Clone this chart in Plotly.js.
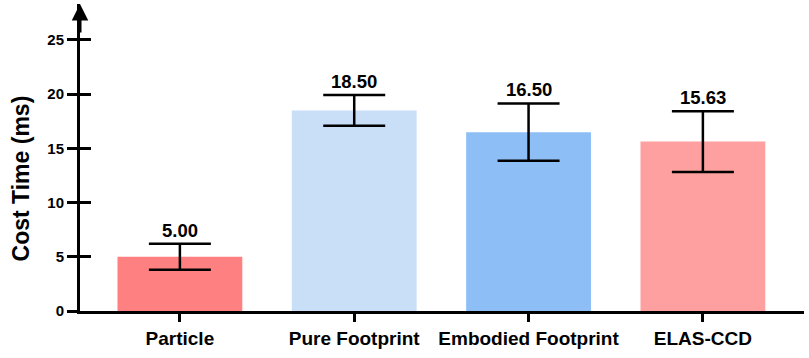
<!DOCTYPE html>
<html>
<head>
<meta charset="utf-8">
<script src="https://cdn.plot.ly/plotly-3.0.1.min.js"></script>
<style>html,body{margin:0;padding:0;background:#fff;}#chart{width:809px;height:358px;}</style>
</head>
<body>
<div id="chart"></div>
<script>
const categories = ["Particle", "Pure Footprint", "Embodied Footprint", "ELAS-CCD"];
const meanValues = [5.00, 18.50, 16.50, 15.63];
const errorValues = [1.2, 1.42, 2.65, 2.8];
const barColors = ["#FF8080", "#C9DEF7", "#8EBEF6", "#FFA0A0"];
const yTickValues = [0, 5, 10, 15, 20, 25];

const FONT = "Liberation Sans, Arial, Helvetica, sans-serif";

const bar = {
  type: "bar",
  x: categories,
  y: meanValues,
  marker: {color: barColors, line: {width: 0}},
  error_y: {type: "data", array: errorValues, visible: true, color: "#000", thickness: 2.5, width: 31},
  hoverinfo: "none",
  showlegend: false
};

const annotations = categories.map((c, i) => ({
  x: c, y: meanValues[i] + errorValues[i], xref: "x", yref: "y",
  text: "<b>" + meanValues[i].toFixed(2) + "</b>",
  showarrow: false, yanchor: "bottom", yshift: 1,
  font: {family: FONT, size: 18.5, color: "#000"}
}));

annotations.push({
  xref: "paper", yref: "paper", x: -0.081, y: 0.433,
  text: "<b>Cost Time (ms)</b>", textangle: -90, showarrow: false,
  xanchor: "center", yanchor: "middle",
  font: {family: FONT, size: 23, color: "#000"}
});

annotations.push({
  xref: "paper", yref: "paper", x: 0, y: 1, ax: 0, ay: 30,
  showarrow: true, arrowhead: 2, arrowsize: 1.1, arrowwidth: 3, arrowcolor: "#000", text: ""
});

const yRange = [0, 28.32];

const layout = {
  width: 809, height: 358,
  margin: {l: 80, r: 5, t: 4, b: 47},
  paper_bgcolor: "#fff", plot_bgcolor: "#fff",
  bargap: 0.284,
  font: {family: FONT, color: "#000"},
  xaxis: {
    type: "category", range: [-0.573, 3.58],
    showline: true, linewidth: 3, linecolor: "#000",
    ticks: "outside", ticklen: 8, tickwidth: 3, tickcolor: "#000",
    tickfont: {family: FONT, size: 19, color: "#000", weight: "bold"},
    showgrid: false, zeroline: false, fixedrange: true
  },
  yaxis: {
    range: yRange, tickvals: yTickValues, ticktext: yTickValues.map(String),
    showline: true, linewidth: 3, linecolor: "#000",
    ticks: "outside", ticklen: 10, tickwidth: 3, tickcolor: "#000",
    tickfont: {family: FONT, size: 15, color: "#000", weight: "bold"},
    showgrid: false, zeroline: false, fixedrange: true
  },
  yaxis2: {
    overlaying: "y", anchor: "x", side: "left", visible: true,
    range: yRange, tickmode: "array", tickvals: yTickValues, ticktext: yTickValues.map(() => ""),
    ticks: "inside", ticklen: 11, tickwidth: 3, tickcolor: "#000",
    showline: false, showgrid: false, zeroline: false, fixedrange: true
  },
  annotations: annotations
};

const dummy = {type: "scatter", x: [categories[0]], y: [0], yaxis: "y2", mode: "markers", marker: {opacity: 0}, hoverinfo: "none", showlegend: false};

Plotly.newPlot("chart", [bar, dummy], layout, {displayModeBar: false, staticPlot: true});
</script>
</body>
</html>
